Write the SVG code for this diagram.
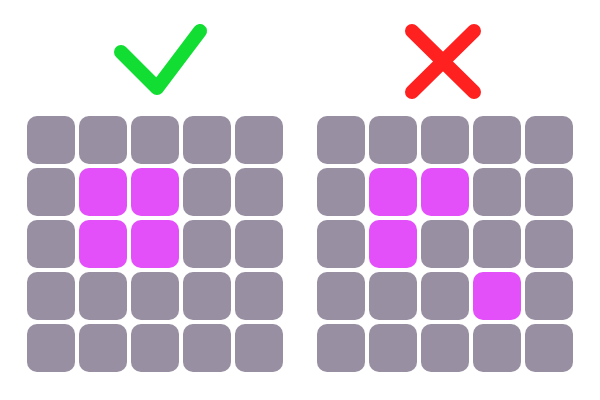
<svg xmlns="http://www.w3.org/2000/svg" width="600" height="400" viewBox="0 0 600 400">
<style>
.c{fill:#988fa2}
.m{fill:#e350f9}
.ok{fill:none;stroke:#11dd33;stroke-width:14;stroke-linecap:round;stroke-linejoin:round}
.no{fill:none;stroke:#ff2020;stroke-width:14;stroke-linecap:round}
</style>
<defs>
<rect id="s" width="48" height="48" rx="10"/>
</defs>
<rect width="600" height="400" fill="#fff"/>
<g id="check"><polyline class="ok" points="121,52 157,88 200,31"/></g>
<g id="cross"><line class="no" x1="412" y1="31" x2="474" y2="92"/><line class="no" x1="474" y1="31" x2="412" y2="92"/></g>
<g id="left">
<use href="#s" class="c" x="27" y="116"/><use href="#s" class="c" x="79" y="116"/><use href="#s" class="c" x="131" y="116"/><use href="#s" class="c" x="183" y="116"/><use href="#s" class="c" x="235" y="116"/>
<use href="#s" class="c" x="27" y="168"/><use href="#s" class="m" x="79" y="168"/><use href="#s" class="m" x="131" y="168"/><use href="#s" class="c" x="183" y="168"/><use href="#s" class="c" x="235" y="168"/>
<use href="#s" class="c" x="27" y="220"/><use href="#s" class="m" x="79" y="220"/><use href="#s" class="m" x="131" y="220"/><use href="#s" class="c" x="183" y="220"/><use href="#s" class="c" x="235" y="220"/>
<use href="#s" class="c" x="27" y="272"/><use href="#s" class="c" x="79" y="272"/><use href="#s" class="c" x="131" y="272"/><use href="#s" class="c" x="183" y="272"/><use href="#s" class="c" x="235" y="272"/>
<use href="#s" class="c" x="27" y="324"/><use href="#s" class="c" x="79" y="324"/><use href="#s" class="c" x="131" y="324"/><use href="#s" class="c" x="183" y="324"/><use href="#s" class="c" x="235" y="324"/>
</g>
<g id="right">
<use href="#s" class="c" x="317" y="116"/><use href="#s" class="c" x="369" y="116"/><use href="#s" class="c" x="421" y="116"/><use href="#s" class="c" x="473" y="116"/><use href="#s" class="c" x="525" y="116"/>
<use href="#s" class="c" x="317" y="168"/><use href="#s" class="m" x="369" y="168"/><use href="#s" class="m" x="421" y="168"/><use href="#s" class="c" x="473" y="168"/><use href="#s" class="c" x="525" y="168"/>
<use href="#s" class="c" x="317" y="220"/><use href="#s" class="m" x="369" y="220"/><use href="#s" class="c" x="421" y="220"/><use href="#s" class="c" x="473" y="220"/><use href="#s" class="c" x="525" y="220"/>
<use href="#s" class="c" x="317" y="272"/><use href="#s" class="c" x="369" y="272"/><use href="#s" class="c" x="421" y="272"/><use href="#s" class="m" x="473" y="272"/><use href="#s" class="c" x="525" y="272"/>
<use href="#s" class="c" x="317" y="324"/><use href="#s" class="c" x="369" y="324"/><use href="#s" class="c" x="421" y="324"/><use href="#s" class="c" x="473" y="324"/><use href="#s" class="c" x="525" y="324"/>
</g>
</svg>
